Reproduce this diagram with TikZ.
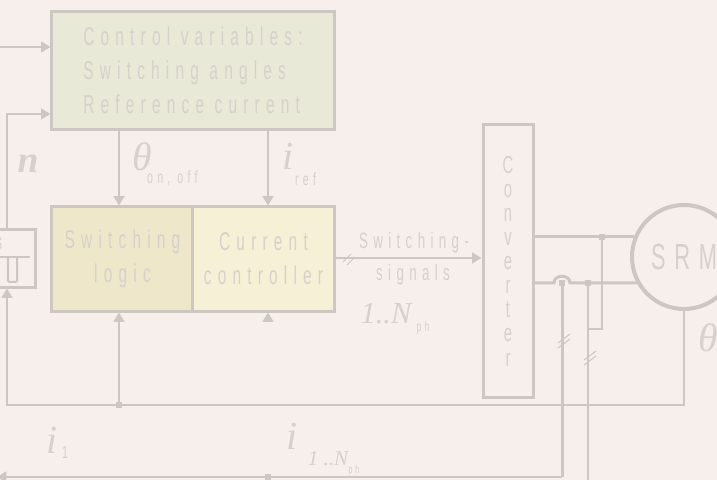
\documentclass[tikz,border=0pt]{standalone}
\usepackage{fontspec}
\setmainfont{Liberation Sans}
\newfontfamily\thinfont[FakeStretch=0.6,LetterSpace=24]{Liberation Sans}
\newfontfamily\serf{Liberation Serif}
\usetikzlibrary{arrows.meta,calc}

\definecolor{bg}{HTML}{F6EFEC}
\definecolor{lc}{HTML}{CCC7C2}
\definecolor{txt}{HTML}{D6D1CC}
\definecolor{ctlfill}{HTML}{E8E9D6}
\definecolor{swfill}{HTML}{EEE7C9}
\definecolor{ccfill}{HTML}{F6F0D6}

% double slash on a bundle of wires
\newcommand\brk[1]{\draw[lc, line width=0.3mm] ($(#1)+(-6,5)$) -- ++(12,-9) ($(#1)+(-6,10)$) -- ++(12,-9);}

\begin{document}
\begin{tikzpicture}[x=0.03cm, y=-0.03cm,
  blk/.style={draw=lc, line width=0.9mm, inner sep=0pt, text=txt,
              font=\thinfont\fontsize{22}{29}\selectfont},
  sig/.style={draw=lc, line width=0.6mm, -{Triangle[length=2.8mm,width=3.2mm]}},
  wire/.style={draw=lc, line width=0.6mm},
  pwr/.style={draw=lc, line width=0.9mm},
  jn/.style={fill=lc, inner sep=0pt, minimum size=1.8mm},
  lbl/.style={text=txt, inner sep=0pt, font=\thinfont\fontsize{19}{20}\selectfont},
  sym/.style={text=txt, inner sep=0pt, font=\serf\itshape\fontsize{34}{34}\selectfont}
]
  \fill[bg] (0,0) rectangle (717,480);
  \useasboundingbox (0,0) rectangle (717,480);

  % blocks
  \node[blk, fill=ctlfill, minimum width=8.46cm, minimum height=3.51cm,
        align=left] (ctl) at (193,70.5)
        {Control variables:\\Switching angles\\Reference current};
  \node[blk, fill=swfill, minimum width=4.23cm, minimum height=3.12cm,
        align=center] (swl) at (122.5,259) {Switching\\logic};
  \node[blk, fill=ccfill, minimum width=4.23cm, minimum height=3.12cm,
        align=center] (cc) at (263.5,259) {Current\\controller};
  \node[blk, minimum width=1.5cm, minimum height=8.16cm, align=center,
        font=\thinfont\fontsize{21}{20.6}\selectfont] (conv) at (508,261)
        {C\\o\\n\\v\\e\\r\\t\\e\\r};
  \node[blk, circle, line width=1.2mm, minimum size=3.12cm,
        font=\thinfont\fontsize{31}{31}\selectfont] (srm) at (684,257) {SRM};
  \node[blk, minimum width=1.65cm, minimum height=1.71cm] (sens) at (7.5,258.5) {};
  \draw[wire] (sens.west |- 0,257) -- (30,257);
  \draw[wire, rounded corners=1pt] (8,258) -- (8,282) -- (17,282) -- (17,258);
  \node[lbl] (ssym) at (-1,244) {s};

  % inputs of the control block
  \coordinate (inA) at (0,47);
  \coordinate (sn) at (7,0);
  \draw[sig] (inA) -- (inA -| ctl.west);
  \draw[sig] (sens.north -| sn) |- (ctl.west |- 0,114);
  \draw[sig] (ctl.south -| 119,0) -- (swl.north -| 119,0);
  \draw[sig] (ctl.south -| 268,0) -- (cc.north -| 268,0);

  % position feedback
  \node[jn] (j1) at (119,405) {};
  \draw[wire] (srm.south) |- (j1.center);
  \draw[sig] (j1.center) -| (sens.south -| sn);
  \draw[sig] (j1.center) -- (swl.south -| j1);
  \coordinate (ccb) at (268,322);
  \draw[sig] (ccb) -- (cc.south -| ccb);

  % gate signals
  \draw[sig] (cc.east |- 0,258) -- (conv.west |- 0,258);
  \draw[lc, line width=0.3mm] (343,262) -- (351,254) (347,265) -- (355,257);

  % phase wires
  \node[jn] (j2) at (602,237) {};
  \node[jn] (j3) at (562,283) {};
  \node[jn] (j4) at (588,283) {};
  \node[jn] (j5) at (268,477) {};
  \coordinate (outI) at (-3,477);
  \coordinate (bot) at (588,482);
  \draw[pwr] (conv.east |- j2) -- (j2.center) -- (j2 -| srm.157);
  \draw[pwr] (conv.east |- j3) -- ($(j3)+(-8,0)$)
    .. controls ($(j3)+(-8,-9)$) and ($(j3)+(8,-9)$) .. ($(j3)+(8,0)$)
    -- (j4.center) -- (j4 -| srm.210);
  \draw[pwr] (j3.center) -- (j3 |- j5);
  \draw[sig] (j3 |- j5) -- (outI);
  \draw[wire] (j4.center) -- (bot);
  \draw[wire] (j2.center) |- (j4 |- 0,329);
  \brk{564,338}
  \brk{590,355}

  % labels
  \node[sym] (lth) at (142,157) {θ};
  \node[lbl, anchor=west, font=\thinfont\fontsize{15}{15}\selectfont] (lths) at (147,178) {on, off};
  \node[sym] (lir) at (288,156) {i};
  \node[lbl, anchor=west, font=\thinfont\fontsize{15}{15}\selectfont] (lirs) at (295,179) {ref};
  \node[sym, font=\serf\bfseries\itshape\fontsize{32}{32}\selectfont] (ln) at (28,164) {n};
  \node[lbl] (lsw) at (414,243) {Switching-};
  \node[lbl] (lsig) at (413,275) {signals};
  \node[sym, font=\serf\itshape\fontsize{26}{26}\selectfont] (lnph) at (386,314) {1..N};
  \node[lbl, font=\thinfont\fontsize{12}{12}\selectfont] (lnphs) at (423,328) {ph};
  \node[sym] (li1) at (52,440) {i};
  \node[lbl, font=\thinfont\fontsize{15}{15}\selectfont] (li1s) at (65,452) {1};
  \node[sym] (lin) at (292,436) {i};
  \node[sym, font=\serf\itshape\fontsize{18}{18}\selectfont] (lins) at (328,459) {1 ..N};
  \node[lbl, font=\thinfont\fontsize{10}{10}\selectfont] (linss) at (354,470) {ph};
  \node[sym] (lthr) at (708,338) {θ};
\end{tikzpicture}
\end{document}
